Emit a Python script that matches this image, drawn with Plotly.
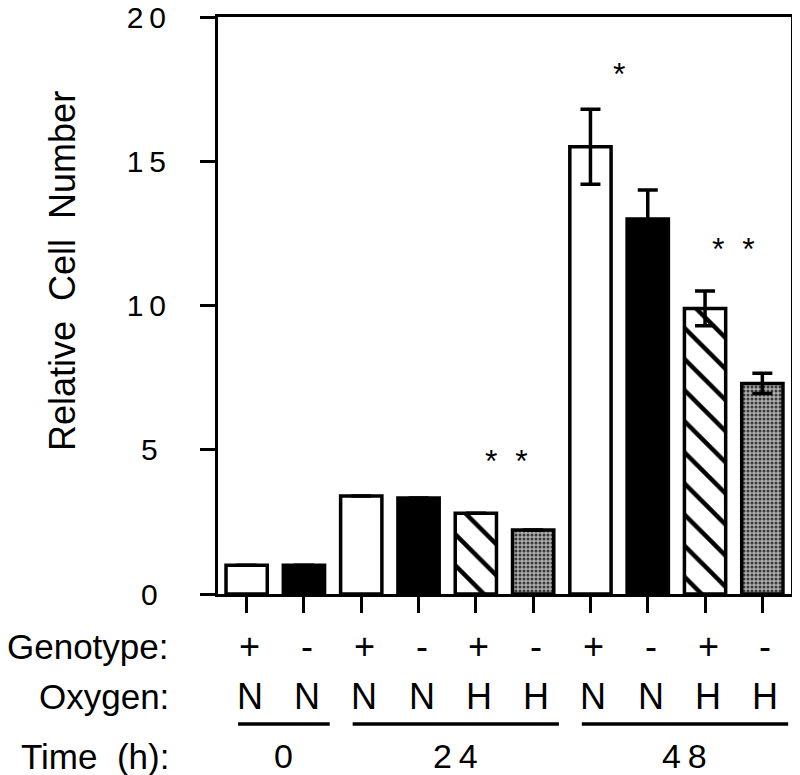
import plotly.graph_objects as go

# ---------------- data ----------------
genotype = ["+", "-", "+", "-", "+", "-", "+", "-", "+", "-"]
oxygen = ["N", "N", "N", "N", "H", "H", "N", "N", "H", "H"]
values = [1.0, 1.0, 3.4, 3.33, 2.8, 2.22, 15.5, 13.0, 9.9, 7.3]
errors = [0, 0, 0, 0, 0, 0, 1.3, 1.0, 0.6, 0.35]
styles = ["open", "solid", "open", "solid", "hatch", "stipple",
          "open", "solid", "hatch", "stipple"]
time_labels = ["0", "24", "48"]
time_members = [[0, 1], [2, 3, 4, 5], [6, 7, 8, 9]]
# significance marks: (label, x category, y value)
sig_text = ["*", "*\u00a0\u00a0*", "*\u00a0\u00a0*"]
sig_x = [6.5, 4.53, 8.5]
sig_y = [18.35, 4.92, 12.27]
y_ticks = [0, 5, 10, 15, 20]

FONT = "Liberation Sans, Arial, Helvetica, sans-serif"
x = list(range(len(values)))

# page offset (browser body margin) compensation
OFF = 8
W, H = 800 - OFF, 775 - OFF
PL, PR, PT, PB = 218, 791, 17, 594   # plot area in screen pixels

style_map = {
    "open":    dict(color="white", pattern=dict(shape="")),
    "solid":   dict(color="black", pattern=dict(shape="")),
    "hatch":   dict(color="white", pattern=dict(shape="\\", fgcolor="black", bgcolor="white",
                                                size=22, solidity=0.2, fillmode="replace")),
    "stipple": dict(color="#8c8c8c", pattern=dict(shape=".", fgcolor="#383838", bgcolor="#b0b0b0",
                                                  size=4, solidity=0.45, fillmode="replace")),
}

fig = go.Figure()
for st in ["open", "solid", "hatch", "stipple"]:
    idx = [i for i in x if styles[i] == st]
    fig.add_trace(go.Bar(
        x=[x[i] for i in idx], y=[values[i] for i in idx], width=0.72,
        marker=dict(color=style_map[st]["color"],
                    line=dict(color="black", width=3.5),
                    pattern=style_map[st]["pattern"]),
        error_y=dict(type="data", array=[errors[i] for i in idx], visible=True,
                     color="black", thickness=3.5, width=10),
        showlegend=False,
    ))


def py(p):
    return (PB - p) / float(PB - PT)


def px(p):
    return (p - PL) / float(PR - PL)


annotations = []
# significance asterisks
for t, sx, sy in zip(sig_text, sig_x, sig_y):
    annotations.append(dict(x=sx, y=sy, xref="x", yref="y", text=t, showarrow=False,
                            font=dict(family=FONT, size=32, color="black"),
                            xanchor="center", yanchor="middle", yshift=-9))

# row labels
row_names = ["Genotype:", "Oxygen:", "Time\u00a0 (h):"]
row_pix = [646, 696, 756]
for name, p in zip(row_names, row_pix):
    annotations.append(dict(x=px(171), y=py(p), xref="paper", yref="paper", text=name,
                            showarrow=False, xanchor="right", yanchor="middle",
                            font=dict(family=FONT, size=35, color="black")))
for i in x:
    annotations.append(dict(x=i, y=py(row_pix[0]), xref="x", yref="paper", text=genotype[i],
                            showarrow=False, xanchor="center", yanchor="middle", xshift=3,
                            font=dict(family=FONT, size=36, color="black")))
    annotations.append(dict(x=i, y=py(row_pix[1]), xref="x", yref="paper", text=oxygen[i],
                            showarrow=False, xanchor="center", yanchor="middle", xshift=3,
                            font=dict(family=FONT, size=36, color="black")))

shapes = []
for lab, mem in zip(time_labels, time_members):
    x0 = mem[0] - 0.15
    x1 = mem[-1] + 0.45
    shapes.append(dict(type="line", xref="x", yref="paper", x0=x0, x1=x1,
                       y0=py(724), y1=py(724), line=dict(color="black", width=3.5)))
    annotations.append(dict(x=(x0 + x1) / 2, y=py(row_pix[2]), xref="x", yref="paper",
                            text="\u2009".join(lab), showarrow=False,
                            xanchor="center", yanchor="middle",
                            font=dict(family=FONT, size=34, color="black")))

# y axis title
annotations.append(dict(x=px(62), y=py(271), xref="paper", yref="paper",
                        text="Relative\u00a0 Cell\u00a0 Number", textangle=-90,
                        showarrow=False, xanchor="center", yanchor="middle",
                        font=dict(family=FONT, size=36, color="black")))

fig.update_layout(
    width=W, height=H,
    margin=dict(l=PL - OFF, r=800 - PR, t=PT - OFF, b=775 - PB, pad=0, autoexpand=False),
    paper_bgcolor="white", plot_bgcolor="white",
    font=dict(family=FONT, color="black"),
    barmode="overlay",
    xaxis=dict(range=[-0.5, 9.5], tickvals=x, showticklabels=False,
               ticks="outside", ticklen=16, tickwidth=3, tickcolor="black",
               showline=True, linewidth=3, linecolor="black", mirror=True,
               showgrid=False, zeroline=False, fixedrange=True, automargin=False),
    yaxis=dict(range=[0, 20], tickvals=y_ticks,
               ticktext=[("\u2009".join(str(v)) if v >= 10 else str(v) + "\u00a0") for v in y_ticks],
               ticks="outside", ticklen=15, tickwidth=3, tickcolor="black",
               tickfont=dict(family=FONT, size=30, color="black"),
               ticklabelstandoff=28, ticklabeloverflow="allow",
               showline=True, linewidth=3, linecolor="black", mirror=True,
               showgrid=False, zeroline=False, fixedrange=True, automargin=False),
    annotations=annotations,
    shapes=shapes,
)

fig.write_html("out.html")
